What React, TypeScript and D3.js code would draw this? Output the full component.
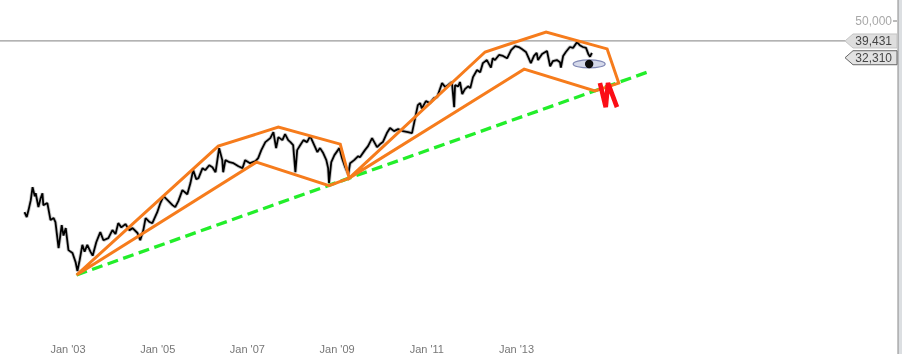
import React from "react";
import * as d3 from "d3";

const priceYears = [2002.03,2002.08,2002.12,2002.17,2002.21,2002.26,2002.28,2002.34,2002.39,2002.43,2002.45,2002.54,2002.61,2002.68,2002.72,2002.79,2002.86,2002.90,2002.95,2003.01,2003.10,2003.17,2003.21,2003.26,2003.32,2003.37,2003.43,2003.50,2003.55,2003.63,2003.72,2003.79,2003.90,2003.99,2004.06,2004.12,2004.19,2004.28,2004.37,2004.44,2004.55,2004.61,2004.68,2004.73,2004.82,2004.88,2004.99,2005.06,2005.13,2005.22,2005.33,2005.39,2005.46,2005.55,2005.66,2005.73,2005.79,2005.86,2005.91,2006.00,2006.06,2006.15,2006.22,2006.29,2006.37,2006.44,2006.46,2006.51,2006.60,2006.69,2006.80,2006.89,2006.95,2007.06,2007.18,2007.24,2007.31,2007.40,2007.51,2007.58,2007.64,2007.69,2007.78,2007.84,2007.91,2007.96,2008.02,2008.07,2008.11,2008.18,2008.25,2008.33,2008.40,2008.49,2008.56,2008.62,2008.69,2008.76,2008.80,2008.82,2008.87,2008.94,2009.05,2009.11,2009.18,2009.25,2009.29,2009.38,2009.47,2009.51,2009.62,2009.69,2009.78,2009.89,2009.96,2010.02,2010.11,2010.18,2010.27,2010.36,2010.47,2010.58,2010.67,2010.74,2010.80,2010.85,2010.89,2010.98,2011.07,2011.16,2011.23,2011.27,2011.34,2011.41,2011.47,2011.56,2011.61,2011.63,2011.70,2011.74,2011.79,2011.85,2011.92,2011.97,2012.03,2012.12,2012.19,2012.25,2012.34,2012.43,2012.47,2012.52,2012.61,2012.70,2012.79,2012.88,2012.97,2013.05,2013.12,2013.21,2013.25,2013.32,2013.39,2013.45,2013.48,2013.57,2013.68,2013.75,2013.81,2013.90,2013.97,2013.99,2014.04,2014.10,2014.19,2014.26,2014.35,2014.41,2014.48,2014.55,2014.60,2014.64,2014.68];
const priceValues = [5150,4860,5280,5940,6930,6230,6450,5470,6080,6450,5600,5740,4690,4800,4580,3360,4420,3900,4260,3280,3170,2840,2560,2910,3490,3220,3490,3220,3070,3600,4060,3690,3780,4160,3970,4520,4300,4470,4160,4260,4020,3690,4160,4800,4580,4520,5150,5740,6230,5940,5600,5470,5870,6690,6370,7280,8490,7630,7720,8690,8490,9000,8790,8280,11030,9560,8280,9560,9330,9220,8890,8690,9560,9220,9440,9790,10770,11850,12420,13340,11030,12570,12130,13020,12130,11850,11440,8280,10770,11440,12130,11850,12710,11440,10520,11030,10400,9560,8690,7270,9330,10150,11030,9790,8790,8090,9220,9560,10020,9900,10770,11300,12420,11160,11580,11850,13190,14020,13500,13820,13500,13340,13190,15750,18400,18840,17700,19290,18840,19990,20230,21480,23900,22800,23300,24200,17950,23300,23000,24200,20950,22260,23000,22500,25650,27900,27200,30300,31430,28700,32100,31430,33400,33000,32100,35400,37100,36700,35800,34600,33000,30300,33000,34200,31430,33800,35000,29200,31000,31430,30600,28700,33000,34600,36700,36300,38900,37500,36700,36300,33800,32700,34200];

const channelYears = [2003.19,2006.35,2007.69,2009.07,2009.27,2012.30,2013.66,2015.02,2015.28,2014.75,2013.17,2009.27,2008.82,2007.20,2003.19];
const channelValues = [2440,11300,14150,11570,7720,34600,43860,35900,23900,21750,28200,7720,7050,9330,2440];
const trendYears = [2003.19,2015.93];
const trendValues = [2440,27280];
const warningYears = [2014.86,2014.99,2015.04,2015.24];
const warningValues = [23900,17950,23900,17950];
const eyeYear = 2014.62;
const eyeValue = 30000;

const tickYears = [2003,2005,2007,2009,2011,2013];
const axisTicks = [50000];
const lastClose = 39431;
const prevLevel = 32310;

const x = d3.scaleLinear().domain([2003, 2013]).range([68, 516.5]);
const y = d3.scaleLog().domain([50000, 2440]).range([21, 275]);
const fmt = d3.format(",");
const FONT = "Arial, 'Liberation Sans', sans-serif";

export default function App() {
  const line = d3.line<[number, number]>().x((d) => x(d[0])).y((d) => y(d[1]));
  const pricePts = priceYears.map((t, i) => [t, priceValues[i]] as [number, number]);
  const channel = channelYears.map((t, i) => [t, channelValues[i]] as [number, number]);
  const trend = trendYears.map((t, i) => [t, trendValues[i]] as [number, number]);
  const warn = warningYears.map((t, i) => [t, warningValues[i]] as [number, number]);
  const tag1 = y(lastClose);
  const tag2 = y(prevLevel);
  const tag = (c: number) => `M845,${c} L853,${c - 7} H897 V${c + 7} H853 Z`;
  return (
    <svg width={903} height={354} style={{ position: "fixed", left: 0, top: 0, background: "#fff", fontFamily: FONT }}>
      <defs>
        <filter id="soft" x="-2%" y="-2%" width="104%" height="104%">
          <feGaussianBlur stdDeviation="0.45" />
        </filter>
      </defs>
      <g filter="url(#soft)">
        <line x1={0} x2={845} y1={tag1} y2={tag1} stroke="#9a9a9a" strokeWidth={1.2} />
        <rect x={898} y={0} width={4} height={354} fill="#dcdfe2" />
        <line x1={898} x2={898} y1={0} y2={354} stroke="#8a8a8a" strokeWidth={1} />
        <path d={line(pricePts)!} fill="none" stroke="#000" strokeOpacity={0.22} strokeWidth={3.6} strokeLinejoin="bevel" />
        <path d={line(pricePts)!} fill="none" stroke="#050505" strokeWidth={1.8} strokeLinejoin="bevel" />
        <path d={line(trend)!} fill="none" stroke="#22ee2a" strokeWidth={3.3} strokeDasharray="11 5.5" />
        <path d={line(channel)!} fill="none" stroke="#f67b1c" strokeWidth={3} strokeLinejoin="miter" />
        <path d={line(warn)!} fill="none" stroke="#fb0d12" strokeWidth={4.6} strokeLinejoin="bevel" />
        <ellipse cx={x(eyeYear)} cy={y(eyeValue)} rx={16} ry={4} fill="#d5d9ea" stroke="#8088b4" strokeWidth={1.2} />
        <circle cx={x(eyeYear)} cy={y(eyeValue)} r={4.2} fill="#0a0a0a" />
        {axisTicks.map((v) => (
          <g key={v}>
            <text x={892} y={y(v) + 4} textAnchor="end" fontSize={12} fill="#a8a8a8">{fmt(v)}</text>
            <line x1={893} x2={897} y1={y(v)} y2={y(v)} stroke="#777" />
          </g>
        ))}
        <path d={tag(tag1)} fill="#dedede" stroke="#c4c4c4" />
        <path d={tag(tag2)} fill="#e2e2e2" stroke="#666" />
        <text x={892} y={tag1 + 4.5} textAnchor="end" fontSize={12} fill="#444">{fmt(lastClose)}</text>
        <text x={892} y={tag2 + 4.5} textAnchor="end" fontSize={12} fill="#444">{fmt(prevLevel)}</text>
        {tickYears.map((yr) => (
          <text key={yr} x={x(yr)} y={352.5} textAnchor="middle" fontSize={11} fill="#777">
            {`Jan '${String(yr).slice(2)}`}
          </text>
        ))}
      </g>
    </svg>
  );
}
